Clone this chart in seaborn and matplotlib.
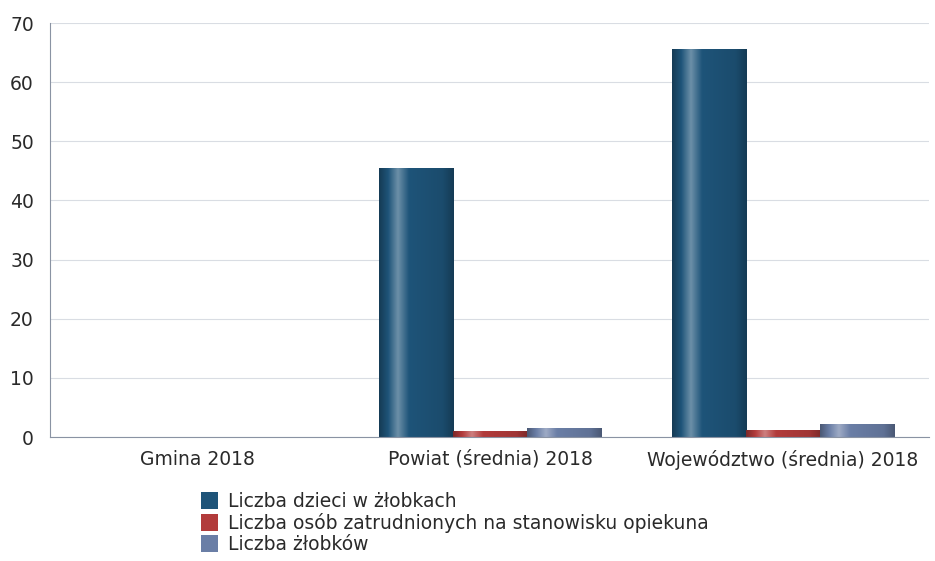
import numpy as np
import pandas as pd
import matplotlib.pyplot as plt
import matplotlib.colors as mcolors
import seaborn as sns

categories = ['Gmina 2018', 'Powiat (średnia) 2018', 'Województwo (średnia) 2018']
series_names = ['Liczba dzieci w żłobkach',
                'Liczba osób zatrudnionych na stanowisku opiekuna',
                'Liczba żłobków']
dzieci = [0, 45.5, 65.6]
opiekunowie = [0, 1.1, 1.2]
zlobki = [0, 1.5, 2.2]
colors = ['#1e5479', '#b23b3b', '#6a7ea6']

rows = []
for name, vals in zip(series_names, [dzieci, opiekunowie, zlobki]):
    for cat, v in zip(categories, vals):
        rows.append({'kategoria': cat, 'seria': name, 'wartosc': v})
df = pd.DataFrame(rows)

sns.set_style('white')
plt.rcParams['font.family'] = ['DejaVu Sans']

fig = plt.figure(figsize=(9.35, 5.61), dpi=100)
ax = fig.add_axes([0.054, 0.221, 0.94, 0.738])

sns.barplot(data=df, x='kategoria', y='wartosc', hue='seria', order=categories,
            hue_order=series_names, palette=colors, width=0.76, saturation=1,
            edgecolor='none', ax=ax)

# cylinder-like shading on the bars
def shade_cmap(base):
    c = np.array(mcolors.to_rgb(base))
    dark = c * 0.7
    light = c + (1 - c) * 0.35
    return mcolors.LinearSegmentedColormap.from_list(
        'shade', [(0, dark), (0.12, c), (0.25, light), (0.4, c), (0.85, c * 0.9), (1, dark)])

grad = np.linspace(0, 1, 128).reshape(1, -1)
for patch in list(ax.patches):
    h = patch.get_height()
    if h <= 0:
        continue
    x0 = patch.get_x()
    w = patch.get_width()
    cm = shade_cmap(patch.get_facecolor())
    im = ax.imshow(grad, cmap=cm, aspect='auto', extent=(x0, x0 + w, 0, h),
                   zorder=patch.get_zorder() + 0.1, interpolation='bicubic')
    im.set_clip_path(patch)
ax.set_xlim(-0.5, 2.5)

ax.set_ylim(0, 70)
ax.set_yticks(range(0, 71, 10))
ax.yaxis.grid(True, color='#d9dde3', linewidth=0.8)
ax.set_axisbelow(True)
ax.set_xlabel('')
ax.set_ylabel('')
for s in ['top', 'right']:
    ax.spines[s].set_visible(False)
ax.spines['left'].set_color('#8a93a3')
ax.spines['bottom'].set_color('#8a93a3')
ax.tick_params(axis='both', labelsize=13.5, colors='#2a2a2a', length=0)
ax.tick_params(axis='y', pad=12)
ax.tick_params(axis='x', pad=9)

leg = ax.legend(loc='upper left', bbox_to_anchor=(0.163, -0.115), frameon=False,
                fontsize=13.5, handlelength=0.9, handleheight=1.0,
                handletextpad=0.5, labelspacing=0.1, borderaxespad=0)
for t in leg.get_texts():
    t.set_color('#2a2a2a')

fig.savefig('out.png', dpi=100)
